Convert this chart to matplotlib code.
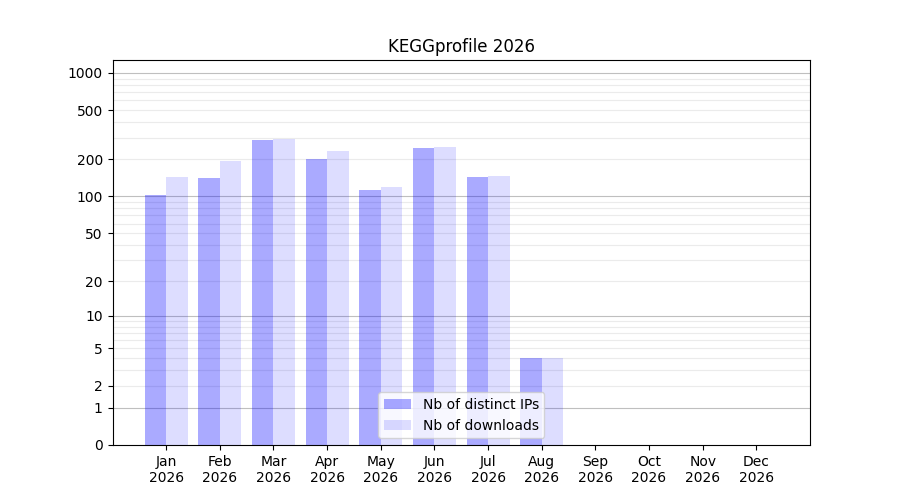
import numpy as np
import matplotlib
matplotlib.use("Agg")
import matplotlib.pyplot as plt

months = ["Jan", "Feb", "Mar", "Apr", "May", "Jun", "Jul", "Aug", "Sep", "Oct", "Nov", "Dec"]
year = "2026"
distinct_ips = [103, 141, 287, 201, 113, 247, 144, 4, 0, 0, 0, 0]
downloads = [144, 194, 293, 234, 119, 252, 146, 4, 0, 0, 0, 0]
ytick_vals = [0, 1, 2, 5, 10, 20, 50, 100, 200, 500, 1000]

fig, ax = plt.subplots(figsize=(9, 5), dpi=100)
ax.set_yscale("function", functions=(lambda v: np.log10(np.clip(v, -0.999, None) + 1),
                                     lambda v: 10 ** v - 1))

# grid lines
major = [1, 10, 100, 1000]
minor = [m * d for d in (1, 10, 100) for m in range(2, 10)]
for v in minor:
    ax.axhline(v, color="#ebebeb", lw=0.8, zorder=0)
for v in major:
    ax.axhline(v, color="#bfbfbf", lw=0.8, zorder=0)

x = np.arange(len(months))
w = 0.4
ax.bar(x - w / 2, distinct_ips, width=w, color="blue", alpha=1 / 3, label="Nb of distinct IPs", zorder=2)
ax.bar(x + w / 2, downloads, width=w, color="blue", alpha=0.133, label="Nb of downloads", zorder=2)

ax.set_xticks(x)
ax.set_xticklabels([f"{m}\n{year}" for m in months])
ax.set_xlim(-1, 12)
ax.set_ylim(0, 1270)
ax.set_yticks(ytick_vals)
ax.set_yticklabels([str(v) for v in ytick_vals])
ax.yaxis.set_minor_locator(matplotlib.ticker.NullLocator())
ax.set_title("KEGGprofile 2026")
ax.legend(loc="lower center")

fig.savefig("out.png", dpi=100)
